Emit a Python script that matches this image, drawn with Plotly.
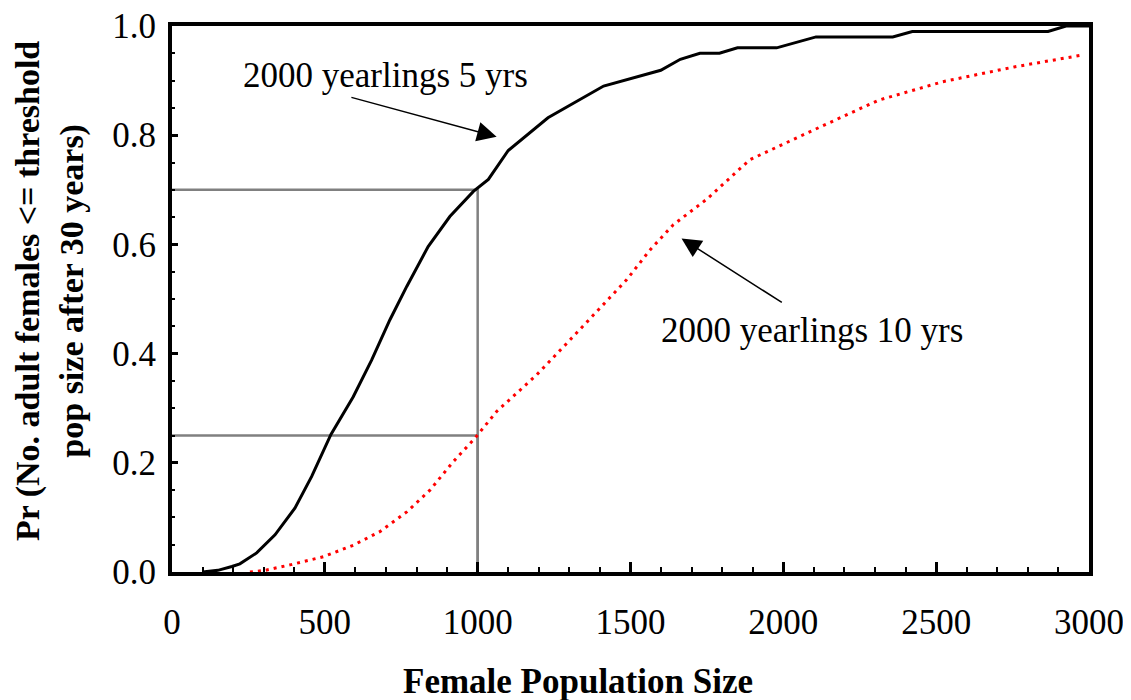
import plotly.graph_objects as go

# Data
x_5yrs = [100, 150, 196, 222, 277, 337, 402, 457, 520, 593, 653, 713, 768, 838, 909, 986,
          1035, 1100, 1230, 1412, 1599, 1663, 1727, 1791, 1850, 1978, 2107, 2358, 2422,
          2866, 2925, 3000]
y_5yrs = [0.0, 0.003, 0.01, 0.015, 0.035, 0.068, 0.117, 0.175, 0.252, 0.321, 0.388, 0.462,
          0.523, 0.596, 0.651, 0.697, 0.719, 0.772, 0.832, 0.890, 0.919, 0.939, 0.950, 0.950,
          0.960, 0.960, 0.980, 0.980, 0.990, 0.990, 1.0, 1.0]

x_10yrs = [255, 304, 386, 495, 593, 680, 768, 844, 920, 991, 1062, 1193, 1302, 1411, 1487,
           1564, 1640, 1750, 1890, 2101, 2311, 2522, 2755, 2980]
y_10yrs = [0.0, 0.003, 0.013, 0.028, 0.049, 0.074, 0.11, 0.15, 0.202, 0.245, 0.294, 0.361,
           0.425, 0.489, 0.535, 0.590, 0.636, 0.683, 0.755, 0.810, 0.864, 0.898, 0.925, 0.947]

threshold_x = 1000
threshold_y = [0.7, 0.25]

x_ticks = [0, 500, 1000, 1500, 2000, 2500, 3000]
y_ticks = [0.0, 0.2, 0.4, 0.6, 0.8, 1.0]

FONT = "Liberation Serif, Times New Roman, serif"

# page body has an 8px margin: the plot area in the screenshot is at
# x 172..1089, y 26..572
W, H = 1123, 692
L, R, T, B = 164, 42, 18, 128

fig = go.Figure()

# gray guide lines
for ty in threshold_y:
    fig.add_trace(go.Scatter(x=[0, threshold_x, threshold_x], y=[ty, ty, 0], mode="lines",
                             line=dict(color="#808080", width=2.5), showlegend=False,
                             hoverinfo="skip"))

fig.add_trace(go.Scatter(x=x_10yrs, y=y_10yrs, mode="lines", name="2000 yearlings 10 yrs",
                         line=dict(color="#ff0000", width=3, dash="3px,5px"), showlegend=False))
fig.add_trace(go.Scatter(x=x_5yrs, y=y_5yrs, mode="lines", name="2000 yearlings 5 yrs",
                         line=dict(color="black", width=3), showlegend=False))

# annotations with arrows
fig.add_annotation(x=1062, y=0.797, ax=582, ay=0.870, xref="x", yref="y", axref="x", ayref="y",
                   text="", showarrow=True, arrowhead=2, arrowsize=2.6, arrowwidth=1.5,
                   arrowcolor="black")
fig.add_annotation(x=1667, y=0.611, ax=2000, ay=0.492, xref="x", yref="y", axref="x", ayref="y",
                   text="", showarrow=True, arrowhead=2, arrowsize=2.6, arrowwidth=1.5,
                   arrowcolor="black")
fig.add_annotation(x=697, y=0.910, xref="x", yref="y", text="2000 yearlings 5 yrs",
                   showarrow=False, font=dict(family=FONT, size=35, color="black"))
fig.add_annotation(x=2095, y=0.443, xref="x", yref="y", text="2000 yearlings 10 yrs",
                   showarrow=False, font=dict(family=FONT, size=35, color="black"))

# axis titles
fig.add_annotation(x=(50 - 172) / 917, y=(572 - 291) / 546, xref="paper", yref="paper",
                   text="<b>Pr (No. adult females <= threshold<br>pop size after 30 years)</b>",
                   textangle=-90, showarrow=False, xanchor="center", yanchor="middle",
                   borderpad=0,
                   font=dict(family=FONT, size=34, color="black"))
fig.add_annotation(x=(578 - 172) / 917, y=(572 - 681) / 546,
                   xref="paper", yref="paper", text="<b>Female Population Size</b>",
                   showarrow=False, xanchor="center", yanchor="middle",
                   font=dict(family=FONT, size=35, color="black"))

fig.update_xaxes(range=[0, 3000], tickvals=x_ticks, ticks="inside", ticklen=10, tickwidth=2.5,
                 tickcolor="black", showline=True, linewidth=4, linecolor="black", mirror=True,
                 showgrid=False, zeroline=False, ticklabelstandoff=16, ticklabeloverflow="allow",
                 automargin=False,
                 tickfont=dict(family=FONT, size=35, color="black"),
                 minor=dict(dtick=100, ticks="inside", ticklen=5, tickwidth=2, tickcolor="black",
                            showgrid=False))
fig.update_yaxes(range=[0, 1], tickvals=y_ticks, tickformat=".1f", ticks="inside", ticklen=6,
                 tickwidth=2.5, tickcolor="black", showline=True, linewidth=4, linecolor="black",
                 mirror=True, showgrid=False, zeroline=False, ticklabelstandoff=5,
                 ticklabeloverflow="allow", automargin=False,
                 tickfont=dict(family=FONT, size=35, color="black"),
                 minor=dict(dtick=0.05, ticks="inside", ticklen=3, tickwidth=2, tickcolor="black",
                            showgrid=False))

fig.update_layout(width=W, height=H, margin=dict(l=L, r=R, t=T, b=B, autoexpand=False),
                  plot_bgcolor="white", paper_bgcolor="white", showlegend=False,
                  font=dict(family=FONT, color="black"))

fig.write_html("out.html")
